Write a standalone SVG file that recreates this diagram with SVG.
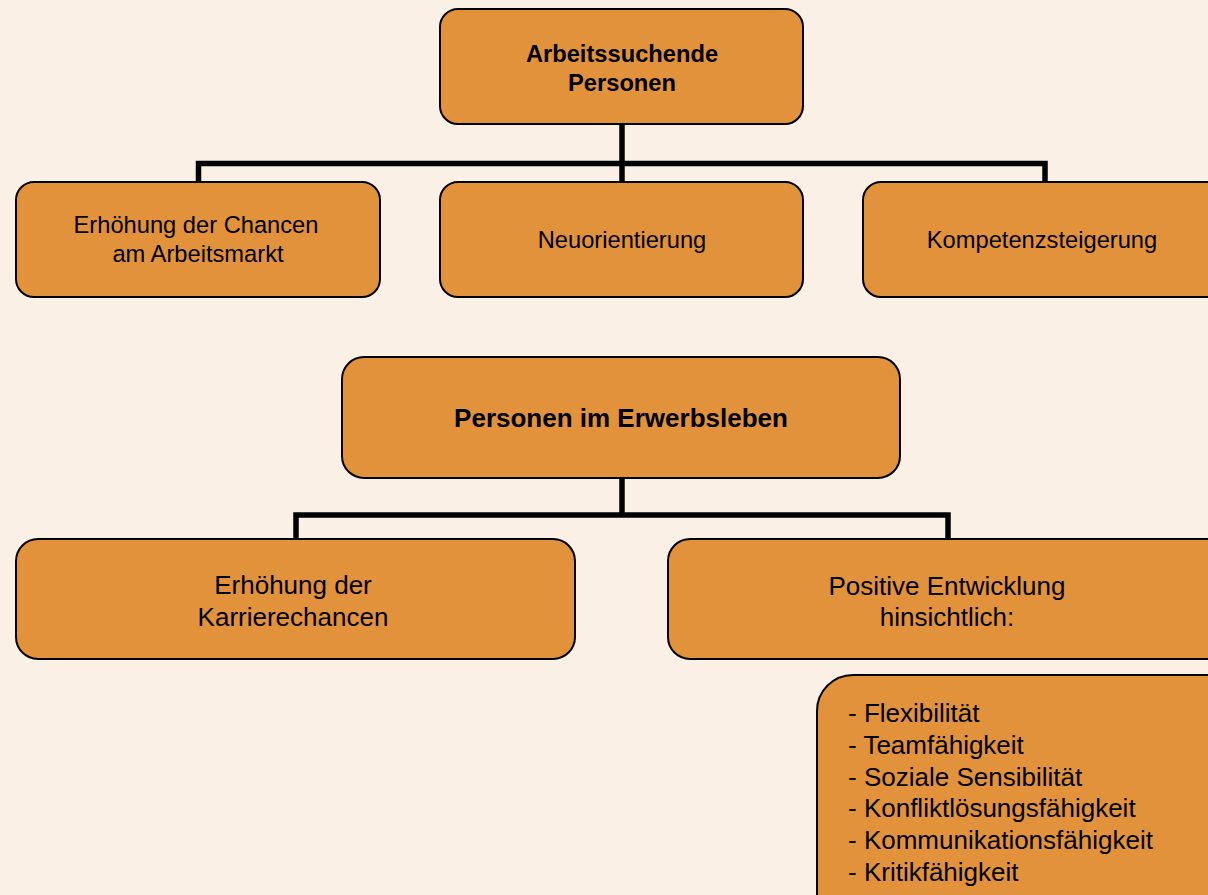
<svg xmlns="http://www.w3.org/2000/svg" width="1208" height="895" viewBox="0 0 1208 895">
<style>
.box{fill:#E3923C;stroke:#000;stroke-width:2}
.t{font-family:"Liberation Sans",Arial,sans-serif;fill:#000;text-anchor:middle}
.s{font-size:23.7px}
.b{font-weight:bold}
.l{font-size:26px}
.conn{fill:none;stroke:#000;stroke-width:5.5;stroke-linejoin:miter}
</style>
<rect width="1208" height="895" fill="#FAF0E6"/>
<g id="connectors">
<path class="conn" d="M622 124 V182 M198.5 182 V163.5 H1045 V182"/>
<path class="conn" d="M622 478 V515 M296 540 V515 H948 V540"/>
</g>
<g id="n-arbeitssuchende">
<rect class="box" x="440" y="9" width="363" height="115" rx="18"/>
<text class="t s b" x="622" y="62">Arbeitssuchende</text>
<text class="t s b" x="622" y="91">Personen</text>
</g>
<g id="n-chancen">
<rect class="box" x="16" y="182" width="364" height="115" rx="18"/>
<text class="t s" x="196" y="233">Erhöhung der Chancen</text>
<text class="t s" x="198" y="262">am Arbeitsmarkt</text>
</g>
<g id="n-neuorientierung">
<rect class="box" x="440" y="182" width="363" height="115" rx="18"/>
<text class="t s" x="622" y="248">Neuorientierung</text>
</g>
<g id="n-kompetenz">
<rect class="box" x="863" y="182" width="364" height="115" rx="18"/>
<text class="t s" x="1042" y="248">Kompetenzsteigerung</text>
</g>
<g id="n-erwerbsleben">
<rect class="box" x="342" y="357" width="558" height="121" rx="22"/>
<text class="t l b" x="621" y="427">Personen im Erwerbsleben</text>
</g>
<g id="n-karriere">
<rect class="box" x="16" y="539" width="559" height="120" rx="22"/>
<text class="t l" x="293" y="594">Erhöhung der</text>
<text class="t l" x="293" y="626">Karrierechancen</text>
</g>
<g id="n-positiv">
<rect class="box" x="668" y="539" width="560" height="120" rx="22"/>
<text class="t l" x="947" y="595">Positive Entwicklung</text>
<text class="t l" x="947" y="626">hinsichtlich:</text>
</g>
<g id="n-liste">
<rect class="box" x="817" y="675" width="430" height="260" rx="36"/>
<text class="l" font-family="'Liberation Sans',Arial,sans-serif" x="848" y="722">- Flexibilität</text>
<text class="l" font-family="'Liberation Sans',Arial,sans-serif" x="848" y="754">- Teamfähigkeit</text>
<text class="l" font-family="'Liberation Sans',Arial,sans-serif" x="848" y="786">- Soziale Sensibilität</text>
<text class="l" font-family="'Liberation Sans',Arial,sans-serif" x="848" y="817">- Konfliktlösungsfähigkeit</text>
<text class="l" font-family="'Liberation Sans',Arial,sans-serif" x="848" y="849">- Kommunikationsfähigkeit</text>
<text class="l" font-family="'Liberation Sans',Arial,sans-serif" x="848" y="881">- Kritikfähigkeit</text>
</g>
</svg>
